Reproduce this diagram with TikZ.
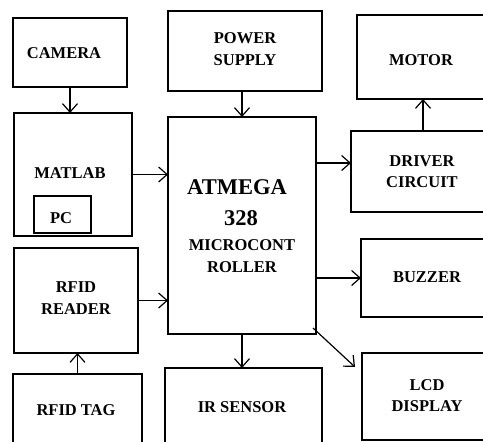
\documentclass[tikz,border=0pt]{standalone}
\usepackage{fontspec}
\setmainfont{Liberation Serif}
\usetikzlibrary{arrows.meta,fit,calc}
\tikzset{
  box/.style={draw, line width=1.6pt, inner sep=0pt, outer sep=0pt, rectangle},
  lbl/.style={font=\fontsize{16.5}{20}\selectfont\bfseries, align=center, inner sep=0pt},
  big/.style={font=\fontsize{22.5}{26}\selectfont\bfseries, inner sep=0pt},
  arr/.style={line width=1.2pt, -{Straight Barb[length=8.5pt,width=15pt,line width=1.2pt]}}
}
\begin{document}
\begin{tikzpicture}[x=1pt,y=-1pt]
\path[use as bounding box, clip] (0,0) rectangle (483,442);
\fill[white] (0,0) rectangle (483,442);
% boxes
\node[box, fit={(13,18) (127,87)}] (cam) {};
\node[box, fit={(14,113) (132,236)}] (mat) {};
\node[box, fit={(34,196) (91,233)}] (pc) {};
\node[box, fit={(168,11) (322,91)}] (pow) {};
\node[box, fit={(168,117) (316,334)}] (atm) {};
\node[box, fit={(357,15) (495,99)}] (mot) {};
\node[box, fit={(351,131) (495,212)}] (drv) {};
\node[box, fit={(14,248) (138,353)}] (rdr) {};
\node[box, fit={(13,374) (142,460)}] (tag) {};
\node[box, fit={(165,368) (322,460)}] (ir) {};
\node[box, fit={(361,239) (495,317)}] (buz) {};
\node[box, fit={(362,353) (495,440)}] (lcd) {};
% labels
\node[lbl] (tcam) at (64,53) {CAMERA};
\node[lbl] (tmat) at (70,173) {MATLAB};
\node[lbl] (tpc) at (61,218) {PC};
\node[lbl] (tpow) at (245,49.5) {POWER\\[2pt]SUPPLY};
\node[big] (tatm1) at (237,187) {ATMEGA};
\node[big] (tatm2) at (241,218) {328};
\node[lbl] (tatm3) at (242,256) {MICROCONT\\[2pt]ROLLER};
\node[lbl] (tmot) at (421,60) {MOTOR};
\node[lbl] (tdrv) at (422,171.5) {DRIVER\\[1pt]CIRCUIT};
\node[lbl] (trdr) at (76,298.5) {RFID\\[2pt]READER};
\node[lbl] (ttag) at (76,410) {RFID TAG};
\node[lbl] (tir) at (242,407) {IR SENSOR};
\node[lbl] (tbuz) at (427,277) {BUZZER};
\node[lbl] (tlcd) at (427,395.5) {LCD\\[1pt]DISPLAY};
% connectors
\draw[arr] (cam.south) -- (cam.south |- mat.north);
\draw[arr] (mat.east) -- (atm.west |- mat.east);
\draw[arr] (atm.north |- pow.south) -- (atm.north);
\draw[arr] ($(atm.east |- drv.west)+(0,-8.5)$) -- ($(drv.west)+(0,-8.5)$);
\draw[arr] (drv.north) -- (drv.north |- mot.south);
\draw[arr] (rdr.east) -- (atm.west |- rdr.east);
\draw[arr] (tag.north) -- (tag.north |- rdr.south);
\draw[arr] (atm.south) -- (atm.south |- ir.north);
\draw[arr] (atm.east |- buz.west) -- (buz.west);
\draw[arr] ($(atm.south east)+(-3,-6)$) -- ($(lcd.north west)+(-7,14)$);
\end{tikzpicture}
\end{document}
